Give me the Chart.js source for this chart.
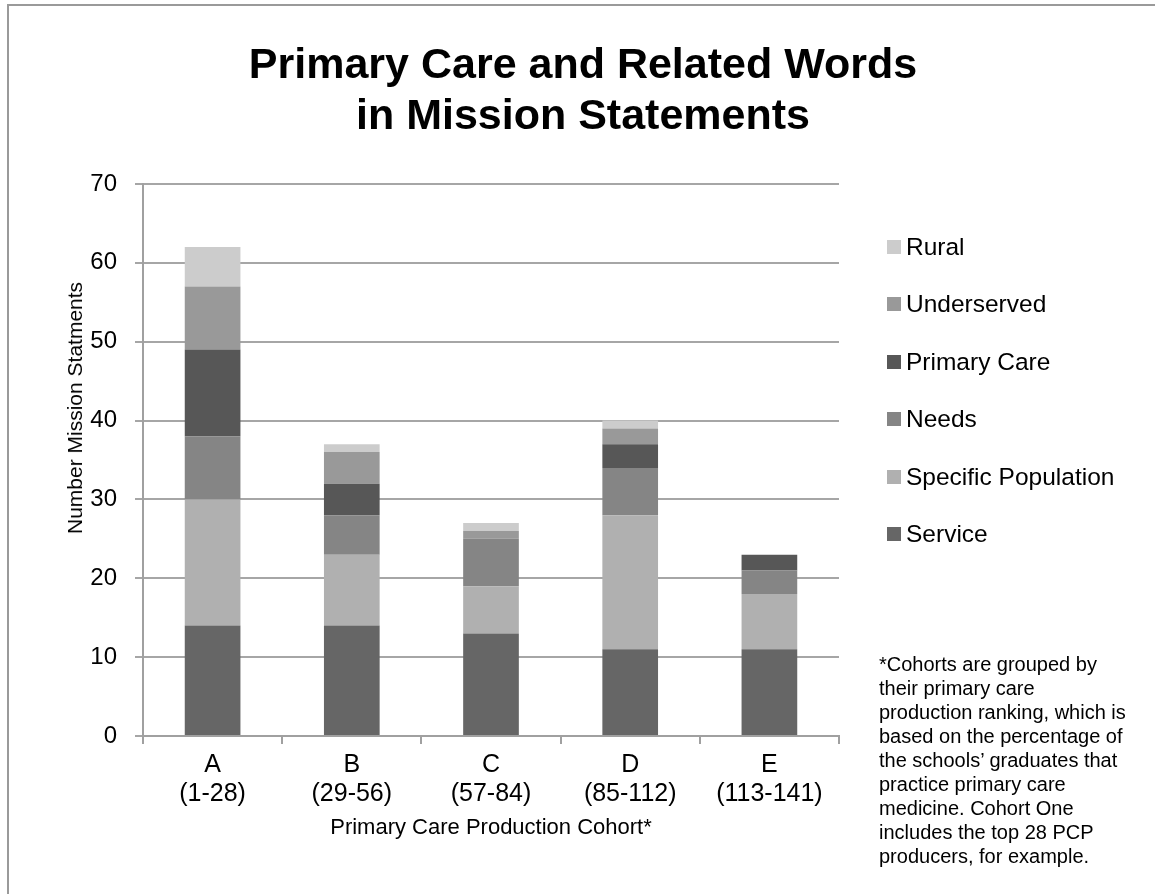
<!DOCTYPE html>
<html>
<head>
<meta charset="utf-8">
<script src="https://cdn.jsdelivr.net/npm/chart.js@4/dist/chart.umd.min.js"></script>
<style>
  html, body { margin: 0; padding: 0; background: #fff; }
  #wrap { position: relative; width: 1155px; height: 894px; overflow: hidden; font-family: "Liberation Sans", Arial, sans-serif; color: #000; }
  #frame { position: absolute; left: 7px; top: 4px; width: 1200px; height: 1000px; border: 2px solid #9a9a9a; box-sizing: border-box; }
  #myChart { position: absolute; left: 0; top: 0; }
  #title { position: absolute; left: 0; width: 1166px; top: 38px; text-align: center; font-weight: bold; font-size: 43px; line-height: 51px; }
  #ytitle { position: absolute; left: 75px; top: 408px; transform: translate(-50%, -50%) rotate(-90deg); white-space: nowrap; font-size: 21px; }
  #legend { position: absolute; left: 887px; top: 233px; }
  .item { height: 57.4px; display: flex; align-items: flex-start; font-size: 24.5px; line-height: 28px; }
  .swatch { width: 14px; height: 14px; margin-top: 7px; margin-right: 5px; }
  #note { position: absolute; left: 879px; top: 652px; font-size: 20px; line-height: 24px; white-space: nowrap; }
</style>
</head>
<body>
<div id="wrap">
  <div id="frame"></div>
  <canvas id="myChart" width="1155" height="894"></canvas>
  <div id="title">Primary Care and Related Words<br>in Mission Statements</div>
  <div id="ytitle">Number Mission Statments</div>
  <div id="legend"></div>
  <div id="note">*Cohorts are grouped by<br>their primary care<br>production ranking, which is<br>based on the percentage of<br>the schools’ graduates that<br>practice primary care<br>medicine. Cohort One<br>includes the top 28 PCP<br>producers, for example.</div>
</div>
<script>
var cohorts = ["A", "B", "C", "D", "E"];
var ranges = ["(1-28)", "(29-56)", "(57-84)", "(85-112)", "(113-141)"];

var service = [14, 14, 13, 11, 11];
var specificPopulation = [16, 9, 6, 17, 7];
var needs = [8, 5, 6, 6, 3];
var primaryCare = [11, 4, 0, 3, 2];
var underserved = [8, 4, 1, 2, 0];
var rural = [5, 1, 1, 1, 0];

var yTicks = [0, 10, 20, 30, 40, 50, 60, 70];

document.addEventListener("DOMContentLoaded", function() {
    var ctx = document.getElementById("myChart").getContext("2d");

    var series = [
        { label: "Service", data: service, color: "#666666" },
        { label: "Specific Population", data: specificPopulation, color: "#b0b0b0" },
        { label: "Needs", data: needs, color: "#858585" },
        { label: "Primary Care", data: primaryCare, color: "#575757" },
        { label: "Underserved", data: underserved, color: "#999999" },
        { label: "Rural", data: rural, color: "#cccccc" }
    ];

    var data = {
        labels: cohorts.map(function(c, i) { return [c, ranges[i]]; }),
        datasets: series.map(function(s) {
            return {
                label: s.label,
                data: s.data,
                backgroundColor: s.color,
                borderWidth: 0,
                barPercentage: 0.4,
                categoryPercentage: 1
            };
        })
    };

    new Chart(ctx, {
        type: "bar",
        data: data,
        options: {
            responsive: false,
            animation: false,
            layout: { padding: { top: 184, right: 316, left: 0, bottom: 0 } },
            plugins: {
                legend: { display: false },
                title: { display: false },
                tooltip: { enabled: false }
            },
            scales: {
                x: {
                    stacked: true,
                    grid: { drawOnChartArea: false, offset: true, tickLength: 8, color: "#a0a0a0", lineWidth: 2 },
                    border: { color: "#a0a0a0", width: 2 },
                    ticks: {
                        color: "#000",
                        padding: 7,
                        maxRotation: 0,
                        autoSkip: false,
                        font: { family: "'Liberation Sans', sans-serif", size: 25, lineHeight: "29px" }
                    },
                    title: {
                        display: true,
                        text: "Primary Care Production Cohort*",
                        color: "#000",
                        padding: { top: 0, bottom: 54 },
                        font: { family: "'Liberation Sans', sans-serif", size: 22, lineHeight: "24px" }
                    },
                    afterFit: function(scale) { scale.height = 158; }
                },
                y: {
                    stacked: true,
                    min: 0,
                    max: 70,
                    grid: { tickLength: 8, color: "#a6a6a6", lineWidth: 2 },
                    border: { color: "#a0a0a0", width: 2 },
                    ticks: {
                        stepSize: 10,
                        padding: 18,
                        color: "#000",
                        callback: function(v) { return yTicks.indexOf(v) >= 0 ? v : ""; },
                        font: { family: "'Liberation Sans', sans-serif", size: 24 }
                    },
                    afterFit: function(scale) { scale.width = 143; }
                }
            }
        }
    });

    var legend = document.getElementById("legend");
    series.slice().reverse().forEach(function(s) {
        var item = document.createElement("div");
        item.className = "item";
        item.innerHTML = '<span class="swatch" style="background:' + s.color + '"></span><span>' + s.label + '</span>';
        legend.appendChild(item);
    });
});
</script>
</body>
</html>
